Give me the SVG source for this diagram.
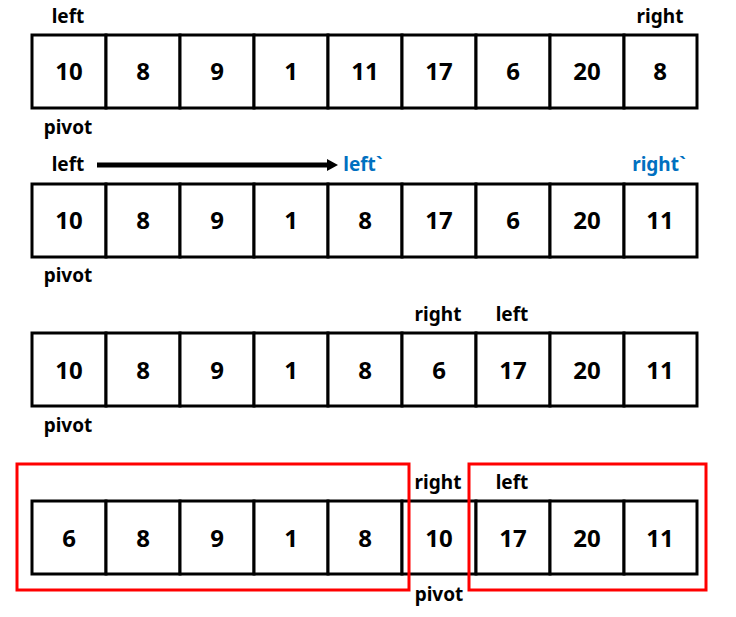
<svg xmlns="http://www.w3.org/2000/svg" width="736" height="617" viewBox="0 0 736 617">
<style>
.cell{fill:#fff;stroke:#000;stroke-width:3}
.num{font-family:"Noto Sans","Liberation Sans",sans-serif;font-weight:bold;font-size:24px;text-anchor:middle;fill:#000}
.lbl{font-family:"Noto Sans","Liberation Sans",sans-serif;font-weight:bold;font-size:19px;text-anchor:middle;fill:#000}
.blue{fill:#0070C0}
.red{fill:none;stroke:#FF0000;stroke-width:3}
</style>
<defs>
<marker id="ah" markerWidth="2.2" markerHeight="2.4" refX="0.2" refY="1.2" orient="auto" markerUnits="strokeWidth">
<path d="M0,0 L2.2,1.2 L0,2.4 Z" fill="#000"/>
</marker>
<g id="row">
<rect class="cell" x="32" y="0" width="74" height="73"/>
<rect class="cell" x="106" y="0" width="74" height="73"/>
<rect class="cell" x="180" y="0" width="74" height="73"/>
<rect class="cell" x="254" y="0" width="74" height="73"/>
<rect class="cell" x="328" y="0" width="74" height="73"/>
<rect class="cell" x="402" y="0" width="74" height="73"/>
<rect class="cell" x="476" y="0" width="74" height="73"/>
<rect class="cell" x="550" y="0" width="74" height="73"/>
<rect class="cell" x="624" y="0" width="73" height="73"/>
</g>
</defs>
<g id="row1">
<use href="#row" y="35"/>
<text class="num" x="69" y="80">10</text><text class="num" x="143" y="80">8</text><text class="num" x="217" y="80">9</text><text class="num" x="291" y="80">1</text><text class="num" x="365" y="80">11</text><text class="num" x="439" y="80">17</text><text class="num" x="513" y="80">6</text><text class="num" x="587" y="80">20</text><text class="num" x="660" y="80">8</text>
<text class="lbl" x="68" y="23">left</text>
<text class="lbl" x="660" y="23">right</text>
<text class="lbl" x="68" y="134">pivot</text>
</g>
<g id="row2">
<use href="#row" y="184"/>
<text class="num" x="69" y="229">10</text><text class="num" x="143" y="229">8</text><text class="num" x="217" y="229">9</text><text class="num" x="291" y="229">1</text><text class="num" x="365" y="229">8</text><text class="num" x="439" y="229">17</text><text class="num" x="513" y="229">6</text><text class="num" x="587" y="229">20</text><text class="num" x="660" y="229">11</text>
<text class="lbl" x="68" y="171">left</text>
<text class="lbl blue" x="363" y="171">left`</text>
<text class="lbl blue" x="659" y="171">right`</text>
<text class="lbl" x="68" y="282">pivot</text>
</g>
<g id="row3">
<use href="#row" y="333"/>
<text class="num" x="69" y="379">10</text><text class="num" x="143" y="379">8</text><text class="num" x="217" y="379">9</text><text class="num" x="291" y="379">1</text><text class="num" x="365" y="379">8</text><text class="num" x="439" y="379">6</text><text class="num" x="513" y="379">17</text><text class="num" x="587" y="379">20</text><text class="num" x="660" y="379">11</text>
<text class="lbl" x="438" y="321">right</text>
<text class="lbl" x="512" y="321">left</text>
<text class="lbl" x="68" y="432">pivot</text>
</g>
<g id="row4">
<use href="#row" y="501"/>
<text class="num" x="69" y="547">6</text><text class="num" x="143" y="547">8</text><text class="num" x="217" y="547">9</text><text class="num" x="291" y="547">1</text><text class="num" x="365" y="547">8</text><text class="num" x="439" y="547">10</text><text class="num" x="513" y="547">17</text><text class="num" x="587" y="547">20</text><text class="num" x="660" y="547">11</text>
<text class="lbl" x="438" y="489">right</text>
<text class="lbl" x="512" y="489">left</text>
<text class="lbl" x="439" y="601">pivot</text>
</g>
<g id="groups">
<rect class="red" x="17" y="464" width="392" height="126"/>
<rect class="red" x="469" y="464" width="237" height="126"/>
</g>
<g id="connectors">
<line x1="97" y1="165" x2="328" y2="165" stroke="#000" stroke-width="5" marker-end="url(#ah)"/>
</g>
</svg>
